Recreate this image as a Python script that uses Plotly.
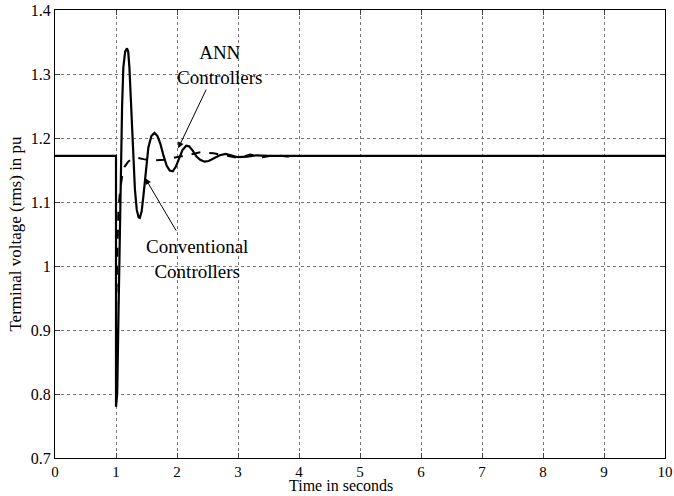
import plotly.graph_objects as go

# Solid curve: conventional controllers
conv_t = [0, 1.0, 1.0, 1.02, 1.04, 1.06, 1.08, 1.10, 1.12, 1.15, 1.18, 1.20, 1.22, 1.25, 1.28, 1.31, 1.34, 1.37, 1.39, 1.42, 1.45, 1.49, 1.53, 1.58, 1.63, 1.68, 1.73, 1.78, 1.83, 1.88, 1.93, 1.98, 2.03, 2.09, 2.15, 2.2, 2.26, 2.32, 2.38, 2.45, 2.52, 2.6, 2.7, 2.8, 2.9, 3.0, 3.15, 3.3, 3.5, 10]
conv_v = [1.172, 1.172, 0.78, 0.80, 0.92, 1.05, 1.16, 1.25, 1.31, 1.335, 1.34, 1.335, 1.31, 1.25, 1.18, 1.12, 1.088, 1.076, 1.075, 1.085, 1.11, 1.15, 1.185, 1.203, 1.208, 1.203, 1.19, 1.172, 1.157, 1.149, 1.148, 1.155, 1.168, 1.181, 1.188, 1.187, 1.180, 1.171, 1.166, 1.163, 1.164, 1.168, 1.173, 1.175, 1.172, 1.170, 1.171, 1.173, 1.172, 1.172]

# Dashed curve: ANN controllers
ann_t = [0, 1.0, 1.0, 1.02, 1.04, 1.07, 1.10, 1.14, 1.2, 1.27, 1.35, 1.45, 1.6, 1.8, 2.0, 2.2, 2.4, 2.6, 2.8, 3.0, 3.2, 3.4, 3.6, 3.8, 4.0, 10]
ann_v = [1.172, 1.172, 0.93, 1.03, 1.09, 1.12, 1.14, 1.155, 1.163, 1.168, 1.169, 1.167, 1.165, 1.166, 1.170, 1.175, 1.178, 1.176, 1.172, 1.169, 1.174, 1.170, 1.173, 1.171, 1.172, 1.172]

x_ticks = [0, 1, 2, 3, 4, 5, 6, 7, 8, 9, 10]
y_ticks = [0.7, 0.8, 0.9, 1.0, 1.1, 1.2, 1.3, 1.4]
y_tick_text = ["0.7", "0.8", "0.9", "1", "1.1", "1.2", "1.3", "1.4"]

FONT = "Liberation Serif"

fig = go.Figure()
fig.add_trace(go.Scatter(x=conv_t, y=conv_v, mode="lines",
                         line=dict(color="black", width=2.2), showlegend=False))
fig.add_trace(go.Scatter(x=ann_t, y=ann_v, mode="lines",
                         line=dict(color="black", width=2, dash="dash"), showlegend=False))

fig.add_annotation(x=2.02, y=1.184, ax=2.49, ay=1.278, xref="x", yref="y", axref="x", ayref="y",
                   text="", showarrow=True, arrowhead=2, arrowsize=1.2, arrowwidth=1, arrowcolor="black")
fig.add_annotation(x=2.70, y=1.314, text="ANN<br>Controllers", showarrow=False,
                   font=dict(family=FONT, size=19, color="black"), xanchor="center", yanchor="middle")
fig.add_annotation(x=1.48, y=1.137, ax=2.0, ay=1.053, xref="x", yref="y", axref="x", ayref="y",
                   text="", showarrow=True, arrowhead=2, arrowsize=1.2, arrowwidth=1, arrowcolor="black")
fig.add_annotation(x=2.32, y=1.011, text="Conventional<br>Controllers", showarrow=False,
                   font=dict(family=FONT, size=19, color="black"), xanchor="center", yanchor="middle")

# x-axis title placed as in the reference (slightly left of centre, under the tick labels)
fig.add_annotation(x=4.69, y=-0.0815, xref="x", yref="paper", text="Time in seconds", showarrow=False,
                   font=dict(family=FONT, size=16, color="black"), xanchor="center", yanchor="bottom",
                   borderpad=0)

fig.update_layout(
    width=674, height=496,
    margin=dict(l=55, r=9, t=10, b=38),
    paper_bgcolor="white", plot_bgcolor="white",
    font=dict(family=FONT, size=15, color="black"),
)
fig.update_xaxes(range=[0, 10], tickvals=x_ticks, ticks="inside", ticklen=5,
                 showline=True, linecolor="black", linewidth=1, mirror="ticks",
                 showgrid=True, gridcolor="#777", griddash="dot", gridwidth=1,
                 zeroline=False, automargin=False,
                 tickfont=dict(family=FONT, size=15))
fig.update_yaxes(range=[0.7, 1.4], tickvals=y_ticks, ticktext=y_tick_text, ticks="inside", ticklen=5,
                 showline=True, linecolor="black", linewidth=1, mirror="ticks",
                 showgrid=True, gridcolor="#777", griddash="dot", gridwidth=1,
                 zeroline=False, automargin=False,
                 tickfont=dict(family=FONT, size=16),
                 title=dict(text="Terminal voltage (rms) in pu", standoff=4, font=dict(family=FONT, size=17)))

fig.write_html("out.html")
